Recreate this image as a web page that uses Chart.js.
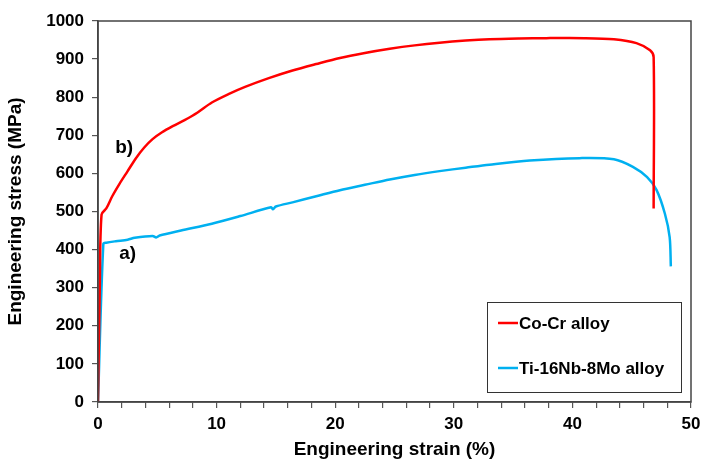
<!DOCTYPE html>
<html lang="en">
<head>
    <meta charset="UTF-8">
    <title>Engineering stress-strain curves</title>
    <style>
        html, body { margin: 0; padding: 0; background: white; }
        #wrap { width: 703px; height: 465px; }
    </style>
    <script src="https://cdn.jsdelivr.net/npm/chart.js"></script>
</head>
<body>
    <div id="wrap"><canvas id="chart" width="703" height="465"></canvas></div>

    <script>
        // Co-Cr alloy, curve b)
        const coCrStrain = [0, 0.15, 0.3, 0.7, 1.2, 1.8, 2.5, 3.2, 3.9, 4.6, 5.4, 6.3, 7.3, 8.4, 9.6, 11, 12.4, 14.4, 16.4, 18.4, 20.4, 22.5, 24.6, 26.7, 28.8, 31, 33, 35.5, 37.8, 41, 43.5, 45.4, 46.55, 46.85, 46.85];
        const coCrStress = [0, 300, 492, 508, 540, 572, 606, 640, 668, 690, 708, 724, 740, 760, 786, 808, 827, 850, 870, 887, 903, 916, 927, 936, 943, 948.5, 952, 954, 955, 955, 952, 942, 923, 905, 508];

        // Ti-16Nb-8Mo alloy, curve a)
        const tiStrain = [0, 0.45, 0.7, 1.5, 2.5, 3.1, 4.6, 4.9, 5.2, 7, 9.6, 12, 14.6, 14.75, 15, 16.4, 18.4, 20.4, 22.5, 24.6, 26.7, 28.8, 31, 33, 36.4, 40.6, 43.5, 45.1, 46.3, 47.1, 47.8, 48.2, 48.3];
        const tiStress = [0, 415, 418, 422, 426, 431, 436, 432, 437, 450, 468, 488, 511, 506, 513, 524, 540, 556, 570, 584, 596, 606, 615, 623, 634, 640, 637, 617, 590, 556, 494, 433, 356];

        const seriesNames = ["Co-Cr alloy", "Ti-16Nb-8Mo alloy"];
        const seriesColors = ["#ff0000", "#00b0f0"];

        // curve labels, in data units
        const curveLabels = ["b)", "a)"];
        const labelStrain = [2.2, 2.5];
        const labelStress = [668, 390];

        const toPoints = (xs, ys) => xs.map((x, i) => ({ x: x, y: ys[i] }));

        const frame = {
            id: "frame",
            afterDatasetsDraw(chart) {
                const { ctx, chartArea: a, scales } = chart;
                ctx.save();
                ctx.strokeStyle = "#444";
                ctx.lineWidth = 1.5;
                ctx.strokeRect(a.left, a.top, a.right - a.left, a.bottom - a.top);

                // curve labels
                ctx.fillStyle = "#000";
                ctx.font = "bold 19px 'Liberation Sans', Arial, sans-serif";
                ctx.textAlign = "center";
                ctx.textBaseline = "middle";
                curveLabels.forEach((t, i) => {
                    ctx.fillText(t, scales.x.getPixelForValue(labelStrain[i]), scales.y.getPixelForValue(labelStress[i]));
                });

                // legend box
                const w = 194, h = 90;
                const bx = a.right - 10 - w, by = a.bottom - 10 - h;
                ctx.fillStyle = "#fff";
                ctx.fillRect(bx, by, w, h);
                ctx.strokeStyle = "#333";
                ctx.lineWidth = 1;
                ctx.strokeRect(bx + 0.5, by + 0.5, w, h);
                ctx.font = "bold 17px 'Liberation Sans', Arial, sans-serif";
                ctx.textAlign = "left";
                chart.data.datasets.forEach((ds, i) => {
                    const yy = by + 21 + i * 45;
                    ctx.strokeStyle = ds.borderColor;
                    ctx.lineWidth = 2.5;
                    ctx.beginPath();
                    ctx.moveTo(bx + 11, yy);
                    ctx.lineTo(bx + 31, yy);
                    ctx.stroke();
                    ctx.fillStyle = "#000";
                    ctx.fillText(ds.label, bx + 32, yy + 1);
                });
                ctx.restore();
            }
        };

        const tickFont = { family: "'Liberation Sans', Arial, sans-serif", size: 17, weight: "bold" };
        const titleFont = { family: "'Liberation Sans', Arial, sans-serif", size: 19, weight: "bold" };

        new Chart(document.getElementById("chart"), {
            type: "scatter",
            data: {
                datasets: [
                    { label: seriesNames[0], data: toPoints(coCrStrain, coCrStress), borderColor: seriesColors[0], backgroundColor: seriesColors[0], showLine: true, pointRadius: 0, borderWidth: 2.5, tension: 0.3 },
                    { label: seriesNames[1], data: toPoints(tiStrain, tiStress), borderColor: seriesColors[1], backgroundColor: seriesColors[1], showLine: true, pointRadius: 0, borderWidth: 2.5, tension: 0.3 }
                ]
            },
            options: {
                responsive: false,
                animation: false,
                layout: { padding: { top: 21, right: 12, left: 0, bottom: 0 } },
                plugins: { legend: { display: false }, tooltip: { enabled: false } },
                scales: {
                    x: {
                        type: "linear", min: 0, max: 50,
                        afterFit(s) { s.height = 63; s.paddingRight = 12; s.paddingLeft = 0; },
                        ticks: {
                            stepSize: 2, autoSkip: false, maxRotation: 0, padding: 6, color: "#000", font: tickFont,
                            callback: v => (v % 10 === 0 ? String(v) : "")
                        },
                        grid: { drawOnChartArea: false, tickLength: 6, color: "#555", lineWidth: 1.2 },
                        border: { color: "#444", width: 1.5 },
                        title: { display: true, text: "Engineering strain (%)", color: "#000", font: titleFont, padding: { top: 2 } }
                    },
                    y: {
                        min: 0, max: 1000,
                        afterFit(s) { s.width = 98; },
                        ticks: { stepSize: 100, padding: 8, color: "#000", font: tickFont, callback: v => String(v) },
                        grid: { drawOnChartArea: false, tickLength: 6, color: "#555", lineWidth: 1.2 },
                        border: { color: "#444", width: 1.5 },
                        title: { display: true, text: "Engineering stress (MPa)", color: "#000", font: titleFont, padding: { bottom: 4 } }
                    }
                }
            },
            plugins: [frame]
        });
    </script>
</body>
</html>
